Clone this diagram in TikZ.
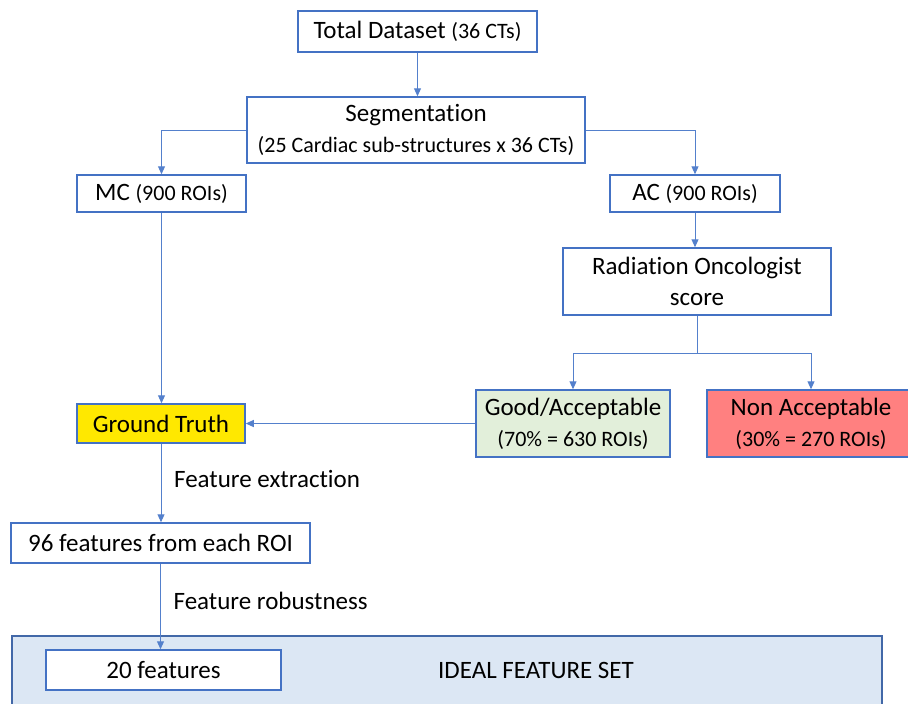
\documentclass[tikz,border=0pt]{standalone}
\usepackage{fontspec}
\setmainfont{Carlito}[Ligatures=NoCommon]
\usetikzlibrary{arrows.meta,positioning}

\definecolor{boxline}{RGB}{68,114,196}
\definecolor{linkblue}{RGB}{84,128,204}
\definecolor{gtyellow}{RGB}{255,232,0}
\definecolor{goodgreen}{RGB}{226,239,218}
\definecolor{nonred}{RGB}{255,128,128}
\definecolor{setblue}{RGB}{220,231,244}
\definecolor{setline}{RGB}{66,104,168}

\newcommand{\sml}[1]{{\fontsize{11}{13.5}\selectfont #1}}

\begin{document}
\begin{tikzpicture}[%
x=0.5pt, y=-0.5pt,
>={Triangle[length=4pt,width=3.5pt]},
font=\fontsize{12.5}{15.5}\selectfont,
box/.style={draw=boxline, line width=0.75pt, fill=white, align=center, inner sep=0pt},
link/.style={->, draw=linkblue, line width=0.5pt},
plain/.style={draw=linkblue, line width=0.5pt}
]
\useasboundingbox (0,0) rectangle (908,703);
\clip (0,0) rectangle (908,703);

% background set
\node[draw=setline, line width=1pt, fill=setblue, anchor=north west,
      minimum width=435pt, minimum height=42.5pt, inner sep=0pt] (idealset) at (11,635) {};
\node (idealtxt) at (536,670) {IDEAL FEATURE SET};

% boxes
\node[box, minimum width=119.5pt, minimum height=20.5pt] (total) at (417.5,31.5) {Total Dataset \sml{(36 CTs)}};
\node[box, minimum width=169pt, minimum height=33pt] (seg) at (416,130) {Segmentation\\ \fontsize{11}{14}\selectfont(25 Cardiac sub-structures x 36 CTs)};
\node[box, minimum width=84.5pt, minimum height=18.5pt] (mc) at (161.5,193.5) {MC \sml{(900 ROIs)}};
\node[box, minimum width=85pt, minimum height=18.5pt] (ac) at (695,193.5) {AC \sml{(900 ROIs)}};
\node[box, minimum width=134pt, minimum height=33.5pt] (rad) at (697,281.5) {Radiation Oncologist\\score};
\node[box, fill=gtyellow, minimum width=84pt, minimum height=19.5pt] (gt) at (161,423.5) {Ground Truth};
\node[box, fill=goodgreen, minimum width=97pt, minimum height=33.5pt] (good) at (573,423.5) {Good/Acceptable\\ \sml{(70\% = 630 ROIs)}};
\node[box, fill=nonred, minimum width=104pt, minimum height=33.5pt] (non) at (811,423.5) {Non Acceptable\\ \sml{(30\% = 270 ROIs)}};
\node[box, minimum width=149.5pt, minimum height=20pt] (f96) at (160.5,543) {96 features from each ROI};
\node[box, minimum width=117.5pt, minimum height=20pt] (f20) at (163.5,670) {20 features};

% connectors
\draw[link] (total.south) -- (total.south |- seg.north);
\draw[link] (seg.west) -| (mc);
\draw[link] (seg.east) -| (ac);
\draw[link] (ac.south) -- (ac.south |- rad.north);
\draw[link] (mc.south) -- (mc.south |- gt.north);

\coordinate (fork) at (rad.south |- 0,353);
\draw[plain] (rad.south) -- (fork);
\draw[link] (fork) -| (good);
\draw[link] (fork) -| (non);
\draw[link] (good) -- (gt);

\draw[link] (gt.south) -- (gt.south |- f96.north) node[midway, right=3pt, yshift=2pt] {Feature extraction};
\draw[link] (f96.south) -- (f96.south |- f20.north) node[midway, right=3pt, yshift=3pt] {Feature robustness};
\end{tikzpicture}
\end{document}
